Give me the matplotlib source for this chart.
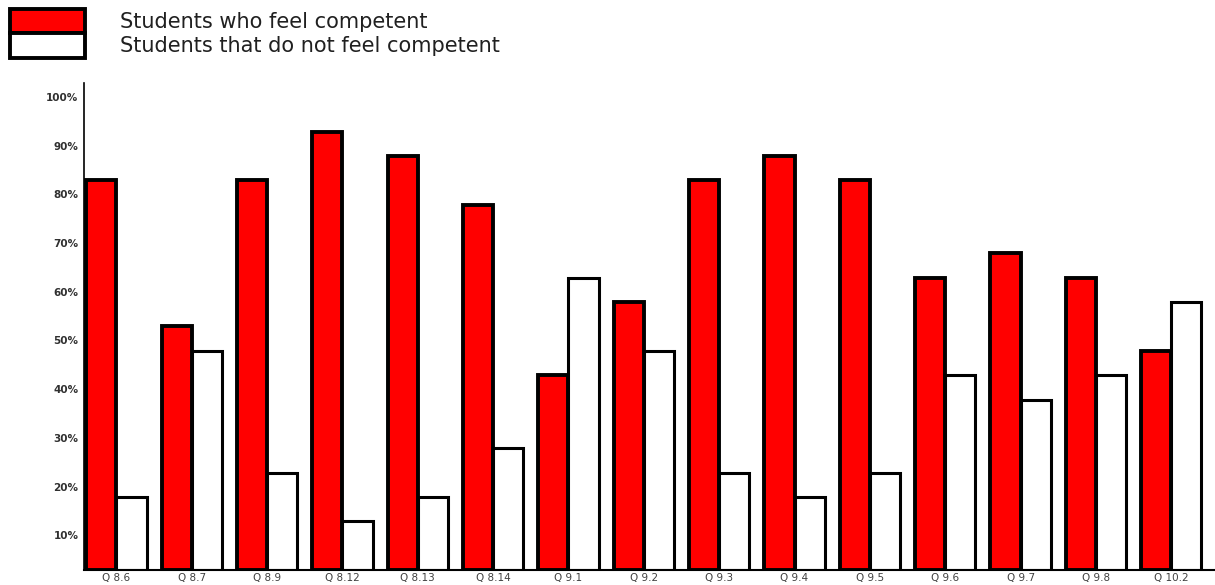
import numpy as np
import matplotlib.pyplot as plt
from matplotlib.patches import Patch
from matplotlib.transforms import ScaledTranslation

# survey results per question (percent of students)
questions = ['Q 8.6', 'Q 8.7', 'Q 8.9', 'Q 8.12', 'Q 8.13', 'Q 8.14', 'Q 9.1', 'Q 9.2',
             'Q 9.3', 'Q 9.4', 'Q 9.5', 'Q 9.6', 'Q 9.7', 'Q 9.8', 'Q 10.2']
competent = [80, 50, 80, 90, 85, 75, 40, 55, 80, 85, 80, 60, 65, 60, 45]
not_competent = [15, 45, 20, 10, 15, 25, 60, 45, 20, 15, 20, 40, 35, 40, 55]
ytick_vals = [10, 20, 30, 40, 50, 60, 70, 80, 90, 100]


def main():
    fig = plt.figure(figsize=(12.15, 5.85), dpi=100, facecolor='white')
    # axes box in pixels: left 84, right 1215, bottom 570, top 83
    ax = fig.add_axes([84 / 1215, (585 - 570) / 585, (1215 - 84) / 1215, (570 - 83) / 585])

    x = np.arange(len(questions))
    w = 0.40
    ax.bar(x - w / 2, competent, width=w, color='#ff0000', edgecolor='black',
           linewidth=2.8, zorder=3)
    ax.bar(x + w / 2, not_competent, width=w, color='white', edgecolor='black',
           linewidth=2.2, zorder=2)

    ax.set_xlim(-0.43, 14.58)
    ax.set_ylim(0, 100)

    ax.spines['right'].set_visible(False)
    ax.spines['top'].set_visible(False)
    ax.spines['left'].set_linewidth(1.2)
    ax.spines['bottom'].set_linewidth(1.5)

    ax.set_yticks(ytick_vals)
    ax.set_yticklabels([f'{v}%' for v in ytick_vals], fontsize=7.5, color='#303030',
                       fontweight='bold')
    ax.tick_params(axis='y', length=0, pad=4)
    # percent labels sit a little below their gridline level
    shift = ScaledTranslation(0, -0.14, fig.dpi_scale_trans)
    for lbl in ax.get_yticklabels():
        lbl.set_transform(lbl.get_transform() + shift)

    ax.set_xticks(x)
    ax.set_xticklabels(questions, fontsize=7.5, color='#404040')
    ax.tick_params(axis='x', length=0, pad=2)

    handles = [Patch(facecolor='#ff0000', edgecolor='black', linewidth=2.8),
               Patch(facecolor='white', edgecolor='black', linewidth=2.8)]
    fig.legend(handles, ['Students who feel competent', 'Students that do not feel competent'],
               loc='upper left', bbox_to_anchor=(10 / 1215, 1 - 9 / 585), frameon=False,
               fontsize=15, handlelength=3.6, handleheight=1.42, labelspacing=0.0,
               handletextpad=1.7, borderpad=0.0, borderaxespad=0.0, labelcolor='#202020')

    plt.savefig('out.png', dpi=100, facecolor='white')


if __name__ == '__main__':
    main()
